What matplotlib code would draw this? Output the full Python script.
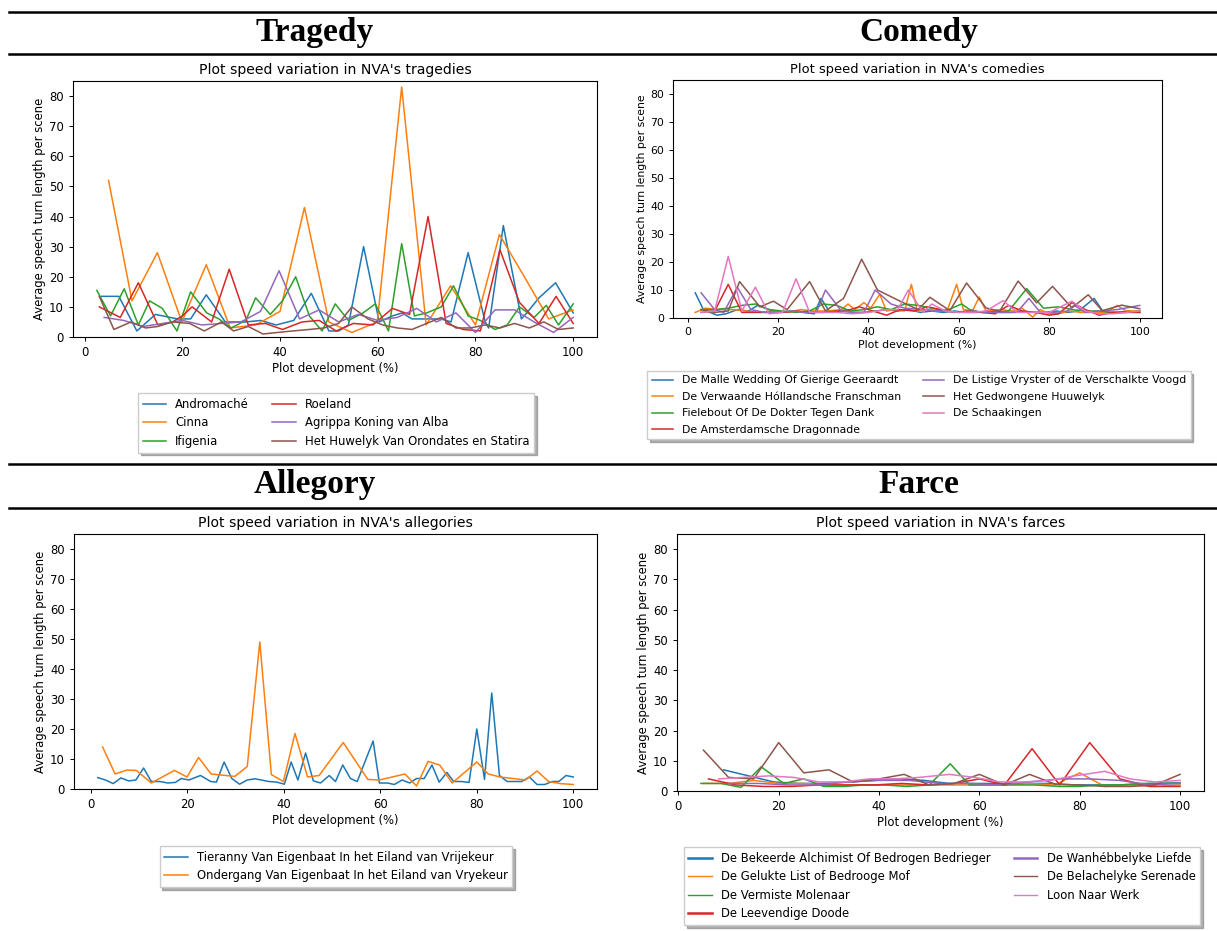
import matplotlib
matplotlib.use("Agg")
import matplotlib.pyplot as plt
from matplotlib.lines import Line2D

W, H = 1217, 931

# ---------------- data ----------------
tragedy_names = ["Andromaché", "Cinna", "Ifigenia", "Roeland",
                 "Agrippa Koning van Alba", "Het Huwelyk Van Orondates en Statira"]
tragedy_x = [
    [3.5, 7, 10.7, 14.5, 19, 21.7, 24.9, 28.8, 33, 36, 39.2, 42.8, 46.4, 50, 52, 54, 57.1, 60.3,
     63, 65, 67, 70, 73, 75, 78.5, 82, 82.7, 85.7, 89.4, 90.5, 93, 96.4, 100],
    [4.9, 9.7, 14.9, 19.9, 24.9, 29.8, 35, 40, 45, 50, 54.7, 59.9, 64.9, 69.9, 74.9, 80, 84.9,
     90, 95, 100],
    [2.5, 5.3, 8.1, 11, 13.3, 15.9, 18.9, 21.7, 25, 27.5, 30, 33, 35, 38, 40.5, 43.2, 46, 48.6,
     51.3, 54, 57, 59.5, 62.2, 64.9, 67.5, 70, 73, 75.5, 78.5, 81, 84, 86.5, 89, 92, 94.5, 97, 100],
    [3, 7.3, 11, 15, 18, 20, 22, 26, 29.6, 33.5, 37, 40.5, 44.5, 48, 51.5, 55, 59, 63, 66.5,
     70.3, 74, 77.5, 81, 85, 89, 93, 96.5, 100],
    [4, 8, 12, 16, 20, 24, 28, 32, 36, 39.8, 44, 48, 52, 56, 60, 64, 68, 72, 76, 80, 84, 88,
     92, 96, 100],
    [3, 6, 9.5, 12.5, 15, 18, 21.5, 24.5, 28, 30.5, 33.5, 36.5, 39.5, 42.5, 46, 49, 52, 54.7,
     58, 61, 64, 67, 70, 73, 76, 79, 82, 85, 88, 91, 94, 97, 100],
]
tragedy_y = [
    [13.5, 13.5, 2, 7.5, 6, 6, 14, 5, 5, 5.5, 4, 5.5, 14.5, 2, 2, 4, 30, 5, 7, 8, 6, 6, 6, 5,
     28, 5, 3, 37, 6, 8, 13, 18, 8],
    [52, 12, 28, 5, 24, 3, 4, 8.5, 43, 5, 1.5, 5, 83, 4, 17, 4, 34, 20, 6, 9],
    [15.5, 7, 16, 4, 12, 9.5, 2, 15, 8, 6, 3, 5.5, 13, 7.5, 12, 20, 7, 2, 11, 5.5, 8, 11, 2,
     31, 7, 8, 10, 17, 7, 5.5, 2.5, 4, 10, 6.5, 10.5, 4, 11],
    [10, 6.5, 18, 4, 5, 7, 10, 5, 22.5, 4, 4.5, 2.5, 5, 5.5, 2, 4.5, 4, 9.5, 7.5, 40, 4.5,
     2.5, 2, 29, 11.5, 4.5, 13.5, 4.5],
    [6.5, 5.5, 3.5, 4.5, 5.5, 4, 4.5, 5, 8.5, 22, 6, 9, 5, 7.5, 5.5, 6.5, 9.5, 5, 8, 1.5, 9,
     9, 5, 1.5, 6.5],
    [13.5, 2.5, 5, 3, 3.5, 5, 4.5, 2, 5, 2, 3.5, 1, 1.5, 2, 2.5, 3, 4.5, 10, 6, 4, 3, 2.5,
     4.5, 6.5, 3, 3, 4, 3, 4.5, 3, 5, 2.5, 3],
]

comedy_names = ["De Malle Wedding Of Gierige Geeraardt", "De Verwaande Hóllandsche Franschman",
                "Fielebout Of De Dokter Tegen Dank", "De Amsterdamsche Dragonnade",
                "De Listige Vryster of de Verschalkte Voogd", "Het Gedwongene Huuwelyk",
                "De Schaakingen"]
comedy_x = [
    [1.7, 3.5, 6.5, 8.5, 11, 13.5, 15.5, 18, 20.5, 23, 25.5, 28, 29.5, 31.5, 34, 36.5, 39, 41.5,
     44, 46.5, 49, 51.5, 54, 56.5, 59, 61.5, 64, 66.5, 69, 71.5, 74, 76.5, 79, 81.5, 84, 86.5,
     89.9, 92, 95, 97.5, 100],
    [1.7, 4, 7, 10, 13, 16, 19, 22, 25, 28, 31, 34, 35.5, 37, 39, 40.5, 42.5, 44, 46, 48, 49.5,
     50.8, 53, 55, 57.5, 59.5, 61, 63, 64.5, 66, 69, 72, 74, 76.3, 78, 80, 82, 84.5, 87, 90,
     92.5, 95, 97, 100],
    [3, 6, 9, 12, 15, 18, 21, 24, 27, 30, 33, 36, 39, 42, 45, 48, 51, 54, 57, 60.6, 62.4, 65,
     68, 71, 75, 78.7, 82, 85, 88, 91, 94, 97, 100],
    [3, 6, 9, 12, 15, 18, 21, 24, 27, 30, 33, 36, 38, 41, 44, 47, 50, 53, 56, 59, 62, 65, 68,
     71, 74, 77, 80, 82, 85, 88, 91, 94, 97, 100],
    [3, 6, 8, 11, 14, 17, 20, 23, 26, 28.5, 30.5, 34, 37, 39, 41.5, 45, 48, 52, 56, 60, 63, 66,
     70, 72.8, 75.5, 78, 81, 84, 85.5, 88, 91, 95, 100],
    [3, 6, 9, 11.5, 16, 19, 22, 27, 30.5, 34.5, 38.5, 42, 47, 51, 53.6, 58, 61.7, 66, 69, 73.1,
     77.2, 80.7, 85, 88.6, 91.7, 96, 100],
    [3, 6, 9, 12, 15, 18, 21, 24, 27, 30, 33, 36.5, 40, 44, 46.5, 48.8, 52.1, 54, 57, 60, 63,
     66, 69.8, 72.8, 76, 80, 85, 88, 91, 94, 97, 100],
]
comedy_y = [
    [9, 3, 1, 1.5, 3, 2.5, 4.5, 3, 2, 2.5, 2, 1.5, 7, 2, 2.5, 2, 2, 2.5, 3, 2.5, 3, 2, 2.5, 2,
     2.5, 2, 2, 2.5, 2, 2, 2.5, 2, 2, 2.5, 2, 2.5, 7, 2, 2, 2.5, 2],
    [2, 3.5, 3, 3, 2.5, 2, 2.5, 2, 3, 2.5, 2.5, 3, 5, 3, 5.5, 3.5, 8.5, 2.5, 3, 2.5, 12, 2.5, 3,
     2.5, 3, 12, 3, 2.5, 7.5, 2.5, 3, 2.5, 3.5, 0.3, 3, 1.5, 1.5, 2.5, 2, 2, 2, 4.5, 2.5, 2.5],
    [3, 3, 3.5, 4.5, 5, 3, 2.5, 2, 2.5, 5, 4.5, 2.5, 3, 4, 3, 5, 4.5, 3.5, 2.5, 5, 3, 2, 2, 2.5,
     10.5, 3.5, 4, 3, 2.5, 2.5, 2, 2, 2.5],
    [2, 2.5, 12, 2, 2, 2, 2, 2.5, 2, 2, 2.5, 3, 4, 2.5, 1, 3, 2.5, 4, 3, 2, 2.5, 2, 1.5, 4.5,
     2.5, 2, 1, 1.5, 5.5, 3, 1, 2, 2, 2],
    [9, 3, 2, 11, 3, 2, 2, 2.5, 2, 2, 10, 2.5, 2, 2, 10, 5, 3.5, 3, 2.5, 2, 2.5, 2, 2, 2, 7, 2,
     2, 2.5, 4.5, 2, 2.5, 3, 4.5],
    [3, 2, 2.5, 13, 4, 6, 3, 13, 2.5, 7, 21, 10, 6, 3, 7.4, 2.6, 12.5, 3.6, 2.4, 13.2, 5.4,
     11.3, 3.6, 8.3, 2.6, 4.6, 3.3],
    [2, 2.5, 22, 2.5, 11, 1.5, 2, 14, 2, 2, 2, 1.5, 2, 3, 3, 10, 2, 5, 2.5, 2, 2, 2.5, 6.2, 2,
     2, 2, 6, 2.5, 1.5, 1.5, 2, 2.5],
]

allegory_names = ["Tieranny Van Eigenbaat In het Eiland van Vrijekeur",
                  "Ondergang Van Eigenbaat In het Eiland van Vryekeur"]
allegory_x = [
    [1.4, 3, 4.6, 6.2, 7.8, 9.3, 10.9, 12.5, 14.3, 15.9, 17.5, 18.7, 20.3, 22.7, 24.8, 26, 27.6,
     29.2, 30.8, 32.4, 34, 36.9, 38.5, 40.1, 41.5, 42.9, 44.5, 46.1, 47.6, 49.4, 50.7, 52.2,
     53.8, 55.2, 58.5, 59.8, 61.5, 62.9, 64.5, 66.1, 67.5, 69.1, 70.7, 72.2, 73.8, 75.2, 76.8,
     78.4, 80, 81.6, 83.1, 84.7, 86.3, 89.3, 90.9, 92.5, 94.1, 95.6, 97, 98.5, 100],
    [2.4, 5, 7.4, 9.4, 12.5, 17.3, 19.9, 22.3, 24.9, 29.8, 32.4, 35, 37.4, 39.9, 42.3, 44.9,
     47.3, 52.3, 57.4, 59.8, 65.1, 67.5, 69.9, 72.3, 74.9, 80, 82.4, 84.8, 87.5, 90.1, 92.5,
     94.9, 97.3, 100],
]
allegory_y = [
    [3.8, 3, 1.8, 3.7, 2.7, 3, 7, 2.5, 2.5, 2, 2.2, 3.5, 3, 4.5, 2.5, 2.3, 9, 3.5, 1.6, 3, 3.4,
     2.5, 2.3, 1.6, 9, 3, 12, 2.7, 2, 4.5, 2.5, 8, 3.5, 2.5, 16, 2, 2, 1.5, 3, 2, 3.5, 3.5, 8,
     2.3, 5.5, 2.5, 2.5, 2.2, 20, 3.2, 32, 4.5, 2.5, 2.5, 4, 1.5, 1.5, 2.5, 2.5, 4.5, 4],
    [14, 5, 6.3, 6.2, 2, 6.2, 4, 10.5, 5, 4.2, 7.5, 49, 4.8, 2.5, 18.5, 4, 4.5, 15.5, 3.2, 3, 5,
     1, 9.2, 8, 2, 9, 5, 4, 3.5, 3, 6, 2.5, 1.8, 1.5],
]

farce_names = ["De Bekeerde Alchimist Of Bedrogen Bedrieger", "De Gelukte List of Bedrooge Mof",
               "De Vermiste Molenaar", "De Leevendige Doode", "De Wanhébbelyke Liefde",
               "De Belachelyke Serenade", "Loon Naar Werk"]
farce_x = [
    [9, 14, 19, 24, 29, 34, 39, 44, 49, 54, 59, 64, 69, 74, 79, 84, 89, 94, 100],
    [5, 10, 15, 20, 25, 30, 35, 40, 45, 50, 55, 60, 65, 70, 75, 80, 85, 90, 95, 100],
    [4.5, 8.5, 12.5, 16.5, 21, 25, 29, 33, 37, 41, 45.5, 50, 54.2, 58, 62, 66, 71, 76, 80, 84,
     88, 92, 96, 100],
    [6, 11.5, 17, 22.5, 28, 33, 39, 44.5, 50, 55, 60, 65, 70.5, 76, 82, 88, 94, 100],
    [10, 16, 22, 28, 34, 40, 46, 52, 58, 64, 70, 76, 82, 88, 94, 100],
    [5, 10, 15, 20, 25, 30, 34.8, 40, 45, 50, 55, 60, 65, 70, 75.2, 80, 85, 90, 95, 100],
    [8, 13, 18, 23, 28, 33, 38, 43, 48, 54, 59, 64, 69, 74, 79, 85, 90, 95, 100],
]
farce_y = [
    [7, 5, 3, 2.5, 2.5, 3, 3.5, 4, 3.5, 2.5, 2.5, 2.5, 2.5, 2.5, 2, 2, 2, 2.5, 2.7],
    [2.5, 2.5, 3.5, 2.5, 2.5, 2, 2, 2, 2, 2, 2, 2, 2, 2.5, 2, 6, 1.5, 2, 1.5, 2],
    [2.5, 2.5, 1.2, 8, 2.5, 4, 1.5, 1.5, 2, 2, 1.5, 2, 9, 2, 2, 2, 2, 1.5, 1.5, 2, 2, 2.5, 2.5,
     2.5],
    [4, 2, 1.5, 1.5, 2, 2, 2, 2.5, 2, 2.5, 4, 2, 14, 2, 16, 4, 1.5, 1.5],
    [2.5, 2.5, 2, 2, 3, 3.5, 3.5, 2.5, 2.5, 2, 3, 4, 4, 3.5, 2, 2.5],
    [13.5, 4.5, 4, 16, 6, 7, 3, 4, 5.5, 2, 2.5, 5.5, 2, 5.5, 2.2, 2, 1.5, 1.5, 2, 5.5],
    [4, 4.5, 5, 4.5, 3, 3, 4, 4, 4.5, 5.5, 4.5, 3, 3, 3.5, 5, 6.5, 4, 3, 3.5],
]

x_ticks = [0, 20, 40, 60, 80, 100]
y_ticks = [0, 10, 20, 30, 40, 50, 60, 70, 80]

panels = [
    dict(head="Tragedy", title="Plot speed variation in NVA's tragedies",
         names=tragedy_names, xs=tragedy_x, ys=tragedy_y,
         ax=(73, 81, 597, 337), head_y=32, head_x=(9, 610),
         leg=(336, 393), fs=8.4, ncol=2, hlw=None, ls=0.48),
    dict(head="Comedy", title="Plot speed variation in NVA's comedies",
         names=comedy_names, xs=comedy_x, ys=comedy_y,
         ax=(673, 80, 1162, 318), head_y=32, head_x=(610, 1217),
         leg=(919, 371), fs=7.8, ncol=2, hlw=None, ls=0.6),
    dict(head="Allegory", title="Plot speed variation in NVA's allegories",
         names=allegory_names, xs=allegory_x, ys=allegory_y,
         ax=(74, 534, 597, 789), head_y=485, head_x=(9, 610),
         leg=(336, 846), fs=8.4, ncol=1, hlw=None, ls=0.48),
    dict(head="Farce", title="Plot speed variation in NVA's farces",
         names=farce_names, xs=farce_x, ys=farce_y,
         ax=(677, 534, 1204, 791), head_y=485, head_x=(610, 1217),
         leg=(942, 847), fs=8.4, ncol=2, hlw=[1.8, 1.0, 1.0, 1.8, 1.8, 1.0, 1.0], ls=0.48),
]

rules_y = [12, 54, 464, 508]

fig = plt.figure(figsize=(W / 100, H / 100), dpi=100)
colors = plt.rcParams['axes.prop_cycle'].by_key()['color']

for ry in rules_y:
    fig.add_artist(Line2D([9 / W, 1.0], [1 - ry / H, 1 - ry / H],
                          color="black", lw=1.8, transform=fig.transFigure))

for p in panels:
    fs = p["fs"]
    x0, x1 = p["head_x"]
    fig.text(((x0 + x1) / 2 + 5) / W, 1 - p["head_y"] / H, p["head"],
             ha="center", va="center", fontsize=24, fontweight="bold",
             family="Liberation Serif")
    l, t, r, b = p["ax"]
    ax = fig.add_axes([l / W, 1 - b / H, (r - l) / W, (b - t) / H])
    for i, (name, xs, ys) in enumerate(zip(p["names"], p["xs"], p["ys"])):
        ax.plot(xs, ys, color=colors[i % 10], lw=1.1, label=name)
    ax.set_ylim(0, 85)
    ax.set_xticks(x_ticks)
    ax.set_yticks(y_ticks)
    ax.tick_params(labelsize=fs, width=0.7, length=3)
    ax.set_title(p["title"], fontsize=fs * 1.2, pad=5)
    ax.set_xlabel("Plot development (%)", fontsize=fs, labelpad=2)
    ax.set_ylabel("Average speech turn length per scene", fontsize=fs, labelpad=2)
    for s in ax.spines.values():
        s.set_linewidth(0.8)
    lx, ly = p["leg"]
    leg = ax.legend(loc="upper center", bbox_to_anchor=(lx / W, 1 - ly / H),
                    bbox_transform=fig.transFigure, ncol=p["ncol"],
                    shadow={"color": "0.45", "alpha": 0.55}, fontsize=fs,
                    fancybox=False, borderpad=0.4, labelspacing=p["ls"],
                    columnspacing=2.0, handlelength=2.0, borderaxespad=0)
    if p["hlw"]:
        for h, w in zip(leg.get_lines(), p["hlw"]):
            h.set_linewidth(w)

fig.savefig("out.png", dpi=100)
